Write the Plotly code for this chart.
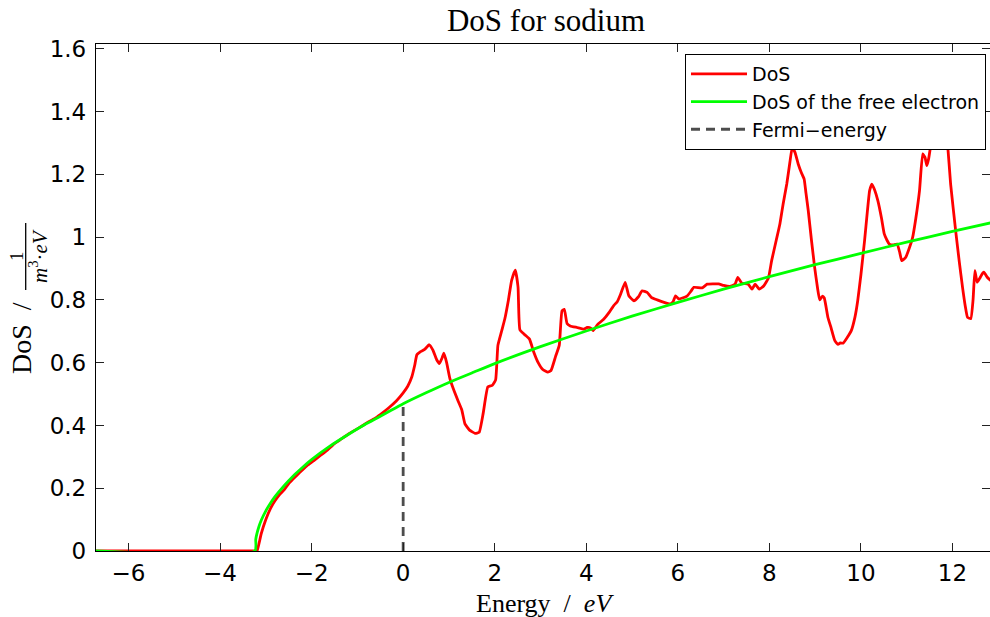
import plotly.graph_objects as go

# Computed density of states for sodium (energy in eV, DoS in 1/(m^3 eV))
dos_energy = [
    -6.71, -3.20, -3.19, -3.10, -3.00, -2.90, -2.80, -2.70, -2.60, -2.50, -2.40,
    -2.25, -2.10, -1.95, -1.80, -1.65, -1.50, -1.35, -1.20, -1.05, -0.90, -0.75,
    -0.60, -0.45, -0.30, -0.15, 0.00, 0.10, 0.19, 0.25, 0.30, 0.38, 0.47, 0.57,
    0.65, 0.73, 0.79, 0.85, 0.89, 0.95, 1.02, 1.10, 1.20, 1.28, 1.35, 1.45, 1.57,
    1.66, 1.75, 1.85, 1.95, 2.02, 2.07, 2.15, 2.22, 2.30, 2.37, 2.45, 2.51, 2.55,
    2.65, 2.76, 2.85, 2.95, 3.05, 3.16, 3.23, 3.33, 3.41, 3.47, 3.52, 3.58, 3.65,
    3.80, 3.95, 4.02, 4.10, 4.15, 4.25, 4.38, 4.50, 4.60, 4.68, 4.75, 4.85, 4.93,
    5.04, 5.14, 5.22, 5.33, 5.42, 5.55, 5.70, 5.84, 5.90, 5.95, 6.02, 6.10, 6.20,
    6.28, 6.35, 6.53, 6.64, 6.89, 7.00, 7.14, 7.25, 7.31, 7.40, 7.54, 7.62, 7.69,
    7.78, 7.88, 7.98, 8.05, 8.15, 8.23, 8.30, 8.38, 8.45, 8.50, 8.56, 8.63, 8.70,
    8.76, 8.80, 8.85, 8.92, 8.99, 9.05, 9.10, 9.16, 9.20, 9.28, 9.35, 9.43, 9.50,
    9.55, 9.61, 9.70, 9.79, 9.87, 9.93, 10.00, 10.08, 10.14, 10.19, 10.24, 10.30,
    10.37, 10.45, 10.51, 10.57, 10.62, 10.70, 10.79, 10.85, 10.89, 10.94, 10.98,
    11.05, 11.13, 11.20, 11.28, 11.35, 11.40, 11.44, 11.48, 11.54, 11.62, 11.72,
    11.82, 11.89, 11.96, 12.07, 12.15, 12.22, 12.28, 12.33, 12.40, 12.45, 12.49,
    12.54, 12.60, 12.66, 12.69, 12.76, 12.85,
]
dos_value = [
    0.000, 0.000, 0.000, 0.055, 0.100, 0.135, 0.160, 0.180, 0.195, 0.215, 0.230,
    0.252, 0.272, 0.288, 0.305, 0.322, 0.342, 0.357, 0.372, 0.385, 0.398, 0.412,
    0.424, 0.440, 0.458, 0.478, 0.504, 0.525, 0.555, 0.590, 0.625, 0.635, 0.642, 0.657,
    0.640, 0.610, 0.597, 0.615, 0.630, 0.600, 0.550, 0.515, 0.478, 0.450, 0.405, 0.385, 0.375,
    0.378, 0.440, 0.523, 0.528, 0.545, 0.655, 0.700, 0.739, 0.800, 0.862, 0.895, 0.840, 0.705,
    0.690, 0.675, 0.635, 0.600, 0.578, 0.570, 0.575, 0.620, 0.655, 0.765, 0.770, 0.725, 0.717,
    0.712, 0.707, 0.712, 0.710, 0.702, 0.722, 0.738, 0.760, 0.782, 0.795, 0.818, 0.856, 0.813,
    0.797, 0.810, 0.829, 0.824, 0.808, 0.800, 0.792, 0.787, 0.795, 0.813, 0.803, 0.806, 0.812,
    0.826, 0.840, 0.838, 0.850, 0.851, 0.846, 0.843, 0.850, 0.872, 0.853, 0.850, 0.834, 0.850,
    0.834, 0.845, 0.870, 0.925, 0.990, 1.042, 1.105, 1.169, 1.240, 1.286, 1.270, 1.233, 1.205,
    1.185, 1.140, 1.084, 0.990, 0.903, 0.840, 0.800, 0.812, 0.806, 0.744, 0.710, 0.670, 0.658,
    0.663, 0.662, 0.680, 0.702, 0.745, 0.797, 0.880, 0.989, 1.080, 1.148, 1.169, 1.150,
    1.116, 1.060, 1.010, 0.990, 0.978, 0.975, 0.978, 0.950, 0.925, 0.930, 0.936,
    0.962, 0.999, 1.060, 1.148, 1.265, 1.254, 1.228, 1.250, 1.307, 1.380, 1.420,
    1.380, 1.302, 1.169, 1.020, 0.920, 0.840, 0.780, 0.744, 0.740, 0.800, 0.893,
    0.856, 0.870, 0.885, 0.888, 0.872, 0.860,
]

# Free-electron model DoS
free_energy = [
    -6.71, -3.24, -3.22, -3.20, -3.15, -3.10, -3.00, -2.90, -2.80, -2.60, -2.40,
    -2.20, -2.00, -1.60, -1.20, -0.80, -0.40, 0.00, 0.50, 1.00, 1.50, 2.00, 3.00,
    4.00, 5.00, 6.00, 7.00, 8.00, 9.00, 10.00, 11.00, 12.00, 12.85,
]
free_value = [
    0.000, 0.000, 0.037, 0.052, 0.078, 0.098, 0.128, 0.152, 0.173, 0.208, 0.239,
    0.266, 0.291, 0.334, 0.371, 0.406, 0.437, 0.469, 0.504, 0.537, 0.567, 0.597, 0.651,
    0.701, 0.748, 0.792, 0.834, 0.874, 0.912, 0.948, 0.984, 1.018, 1.046,
]

# Fermi level marker
fermi_energy = [0.0, 0.0]
fermi_value = [0.0, 0.469]

x_ticks = [-6, -4, -2, 0, 2, 4, 6, 8, 10, 12]
y_ticks = [0, 0.2, 0.4, 0.6, 0.8, 1.0, 1.2, 1.4, 1.6]

W, H = 990, 617
ML, MR, MT, MB = 96, 0, 44, 66
PW, PH = W - ML - MR, H - MT - MB

SANS = "DejaVu Sans"
SERIF = "Liberation Serif"


def px_x(p):
    return (p - ML) / PW


def px_y(p):
    return (H - MB - p) / PH


fig = go.Figure()
fig.add_trace(go.Scatter(
    x=dos_energy, y=dos_value, mode="lines", name="DoS",
    line=dict(color="#ff0000", width=2.8, shape="spline", smoothing=0.4),
))
fig.add_trace(go.Scatter(
    x=free_energy, y=free_value, mode="lines", name="DoS of the free electron",
    line=dict(color="#00ff00", width=2.8, shape="spline", smoothing=0.6),
))
fig.add_trace(go.Scatter(
    x=fermi_energy, y=fermi_value, mode="lines", name="Fermi\u2212energy",
    line=dict(color="#4d4d4d", width=2.8, dash="9px,6px"),
))

axis_common = dict(
    ticks="inside", ticklen=8, tickwidth=1, tickcolor="#222222",
    showgrid=False, zeroline=False, showline=True, linecolor="black",
    linewidth=1.3, tickfont=dict(family=SANS, size=23, color="black"),
)

fig.update_layout(
    width=W, height=H,
    margin=dict(l=ML, r=MR, t=MT, b=MB, pad=0),
    paper_bgcolor="white", plot_bgcolor="white",
    showlegend=True,
    title=dict(
        text="DoS for sodium", x=px_x(546), xref="paper", xanchor="center",
        y=1 - 20 / H, yref="container", yanchor="middle",
        font=dict(family=SERIF, size=31, color="black"),
    ),
    xaxis=dict(
        range=[-6.71, 12.82], tickvals=x_ticks, mirror="allticks",
        ticklabelstandoff=1, **axis_common,
    ),
    yaxis=dict(
        range=[0, PH / 313.9], tickvals=y_ticks, mirror="ticks",
        ticklabelstandoff=4, **axis_common,
    ),
    legend=dict(
        x=px_x(986), y=px_y(54), xanchor="right", yanchor="top",
        bgcolor="white", bordercolor="black", borderwidth=1,
        font=dict(family=SANS, size=19, color="black"),
        itemwidth=56, tracegroupgap=0,
    ),
)

# Axis titles drawn as annotations
fig.add_annotation(
    text="Energy\u00a0\u00a0/\u00a0\u00a0<i>eV</i>", x=px_x(545), y=px_y(603),
    xref="paper", yref="paper", showarrow=False, xanchor="center", yanchor="middle",
    font=dict(family=SERIF, size=26, color="black"),
)
fig.add_annotation(
    text="DoS\u00a0\u00a0/", x=px_x(21), y=px_y(338), textangle=-90,
    xref="paper", yref="paper", showarrow=False, xanchor="center", yanchor="middle",
    font=dict(family=SERIF, size=28, color="black"),
)
fig.add_annotation(
    text="1", x=px_x(16), y=px_y(256), textangle=-90,
    xref="paper", yref="paper", showarrow=False, xanchor="center", yanchor="middle",
    font=dict(family=SERIF, size=19, color="black"),
)
fig.add_annotation(
    text="<i>m</i><sup>3</sup>\u00b7<i>eV</i>", x=px_x(38), y=px_y(256), textangle=-90,
    xref="paper", yref="paper", showarrow=False, xanchor="center", yanchor="middle",
    font=dict(family=SERIF, size=21, color="black"),
)
fig.add_shape(
    type="line", xref="paper", yref="paper",
    x0=px_x(25.7), x1=px_x(25.7), y0=px_y(223), y1=px_y(290),
    line=dict(color="black", width=1.3),
)

fig.write_html("out.html")
